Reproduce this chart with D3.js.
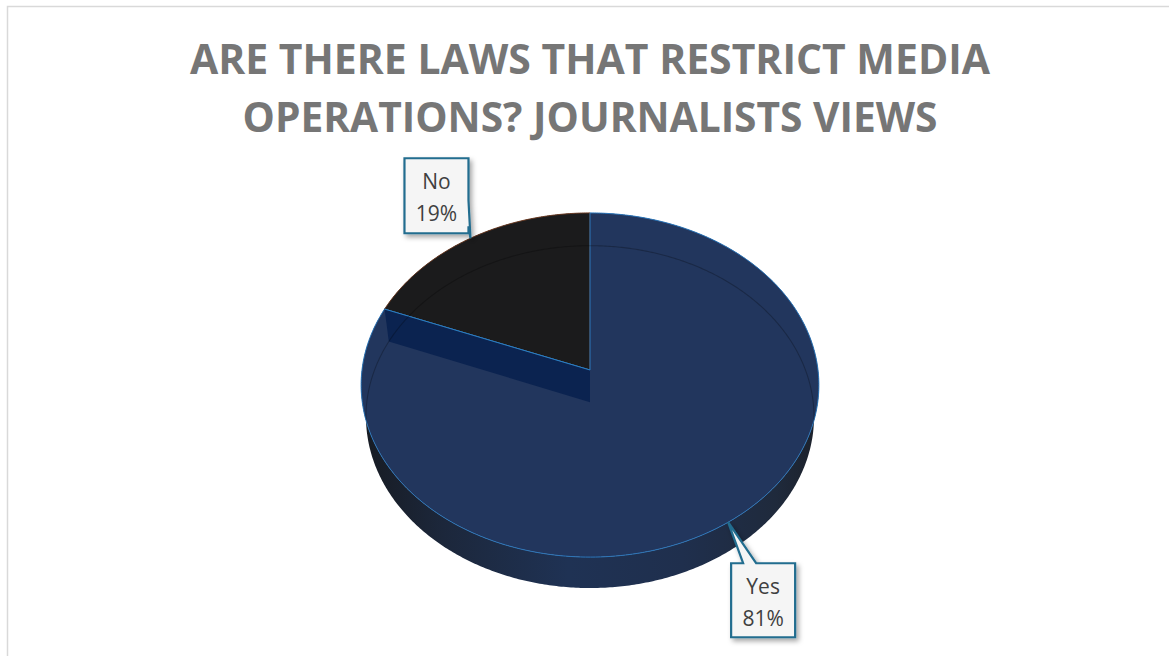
<!DOCTYPE html>
<html>
<head>
<meta charset="utf-8">
<script src="https://cdn.jsdelivr.net/npm/d3@7"></script>
<style>
  html, body { margin: 0; padding: 0; background: #ffffff; }
  svg { display: block; }
</style>
</head>
<body>
<svg id="chart" width="1169" height="656"></svg>
<script>
// Survey answers
const categories = ["Yes", "No"];
const shares = [81, 19];
const titleLines = ["ARE THERE LAWS THAT RESTRICT MEDIA", "OPERATIONS? JOURNALISTS VIEWS"];

const W = 1169, H = 656;
const svg = d3.select("#chart");

// chart frame
svg.append("rect")
  .attr("x", 7.5).attr("y", 6.5)
  .attr("width", 1175).attr("height", 665)
  .attr("fill", "#ffffff").attr("stroke", "#d9d9d9").attr("stroke-width", 1.5);

// title
const title = svg.append("g");
const titleWidths = [800, 695];
const titleBase = [74, 132];
titleLines.forEach((t, i) => {
  title.append("text")
    .attr("x", 590).attr("y", titleBase[i])
    .attr("text-anchor", "middle")
    .attr("font-family", "'Open Sans', 'Noto Sans', sans-serif")
    .attr("font-weight", 700)
    .attr("font-size", 42)
    .attr("fill", "#767676")
    .attr("textLength", titleWidths[i])
    .attr("lengthAdjust", "spacingAndGlyphs")
    .text(t);
});

// 3D pie projection: unit circle lying flat, viewed from above-front with perspective
const cx = 590, cy = 370;       // projected centre of the top face
const scale = 228;              // screen radius at the centre depth
const tilt = Math.asin(0.749);  // elevation of the viewpoint
const persp = 0.1317;           // radius / camera distance
const thick = 0.218;            // pie height relative to radius
const sinT = Math.sin(tilt), cosT = Math.cos(tilt);

function project(theta, r, y) {
  const X = r * Math.sin(theta);
  const Z = r * Math.cos(theta);
  const yv = Z * sinT + y * cosT;
  const depth = 1 + (Z * cosT - y * sinT) * persp;
  return [cx + scale * X / depth, cy - scale * yv / depth];
}

const pie = d3.pie().sort(null).value(d => d)
  .startAngle(0).endAngle(2 * Math.PI);
const arcs = pie(shares).map((a, i) => ({ ...a, name: categories[i] }));

const line = d3.line();
function arcPoints(a0, a1, r, y) {
  const n = Math.max(8, Math.ceil(Math.abs(a1 - a0) / 0.01));
  return d3.range(n + 1).map(i => project(a0 + (a1 - a0) * i / n, r, y));
}

const defs = svg.append("defs");
const sideGrad = defs.append("linearGradient")
  .attr("id", "sideGrad").attr("gradientUnits", "userSpaceOnUse")
  .attr("x1", 360).attr("x2", 822).attr("y1", 0).attr("y2", 0);
[["0", "#171b22"], ["0.18", "#1c273b"], ["0.45", "#1f3254"], ["0.7", "#1f2f4d"], ["0.9", "#1f2a3c"], ["1", "#1c2029"]]
  .forEach(([o, c]) => sideGrad.append("stop").attr("offset", o).attr("stop-color", c));

const shadow = defs.append("filter").attr("id", "shadow")
  .attr("x", "-30%").attr("y", "-30%").attr("width", "170%").attr("height", "170%");
shadow.append("feDropShadow")
  .attr("dx", 2.5).attr("dy", 3).attr("stdDeviation", 2.5)
  .attr("flood-color", "#000").attr("flood-opacity", 0.35);

const topFill = { Yes: "#22365d", No: "#1b1b1c" };
const edgeStroke = { Yes: "#2a76bb", No: "#6a3a22" };
const sideFill = { Yes: "url(#sideGrad)", No: "#141414" };

const pieG = svg.append("g");

// outer walls
arcs.forEach(a => {
  const topE = arcPoints(a.startAngle, a.endAngle, 1, 0);
  const botE = arcPoints(a.startAngle, a.endAngle, 1, -thick).reverse();
  pieG.append("path")
    .attr("d", line(topE.concat(botE)) + "Z")
    .attr("fill", sideFill[a.name]);
});

// top faces, back slice first
const order = ["No", "Yes"];
order.forEach(name => {
  const a = arcs.find(d => d.name === name);
  const pts = [project(0, 0, 0)].concat(arcPoints(a.startAngle, a.endAngle, 1, 0));
  pieG.append("path")
    .attr("d", line(pts) + "Z")
    .attr("fill", topFill[name])
    .attr("stroke", edgeStroke[name])
    .attr("stroke-width", 1)
    .attr("stroke-linejoin", "round");
});

// cut face of the large slice where it meets the small one
const yesArc = arcs.find(d => d.name === "Yes");
const cut = yesArc.endAngle;
const wall = [project(cut, 1, 0), project(0, 0, 0), project(0, 0, -thick), project(cut, 1, -thick)];
pieG.append("path")
  .attr("d", line(wall) + "Z")
  .attr("fill", "#0b2350");
pieG.append("path")
  .attr("d", line([project(cut, 1, 0), project(0, 0, 0)]))
  .attr("stroke", "#2a7fc4").attr("stroke-width", 1).attr("fill", "none");

// faint base outline showing through the glossy top
const clip = defs.append("clipPath").attr("id", "topClip");
clip.append("path").attr("d", line(arcPoints(0, 2 * Math.PI, 1, 0)) + "Z");
pieG.append("path")
  .attr("clip-path", "url(#topClip)")
  .attr("d", line(arcPoints(-Math.PI * 0.6, Math.PI * 0.6, 1, -thick)))
  .attr("fill", "none")
  .attr("stroke", "#000").attr("stroke-opacity", 0.25).attr("stroke-width", 1.1);

// data callouts
const callouts = {
  No:  { dx: -66, dy: -80, w: 64, h: 75, side: "right" },
  Yes: { dx: 3,   dy: 41,  w: 64, h: 74, side: "top" }
};
const labelG = svg.append("g");
arcs.forEach(a => {
  const mid = (a.startAngle + a.endAngle) / 2;
  const [tx, ty] = project(mid, 1, 0);
  const c = callouts[a.name];
  const x0 = tx + c.dx, y0 = ty + c.dy, x1 = x0 + c.w, y1 = y0 + c.h;
  let d;
  if (c.side === "right") {
    d = `M${x0},${y0}H${x1}V${y0 + 42}L${tx},${ty}L${x1},${y0 + 68}V${y1}H${x0}Z`;
  } else {
    d = `M${x0},${y0}H${x0 + 12}L${tx},${ty}L${x0 + 25},${y0}H${x1}V${y1}H${x0}Z`;
  }
  labelG.append("path")
    .attr("d", d)
    .attr("fill", "#f5f5f5")
    .attr("stroke", "#236d8f").attr("stroke-width", 2.2)
    .attr("stroke-linejoin", "miter")
    .attr("filter", "url(#shadow)");
  const pct = Math.round(100 * a.value / d3.sum(shares)) + "%";
  const t = labelG.append("text")
    .attr("text-anchor", "middle")
    .attr("font-family", "'Open Sans', 'Noto Sans', sans-serif")
    .attr("font-size", 21)
    .attr("fill", "#404040");
  t.append("tspan").attr("x", (x0 + x1) / 2).attr("y", y0 + 31).text(a.name);
  t.append("tspan").attr("x", (x0 + x1) / 2).attr("y", y0 + 63).text(pct);
});
</script>
</body>
</html>
